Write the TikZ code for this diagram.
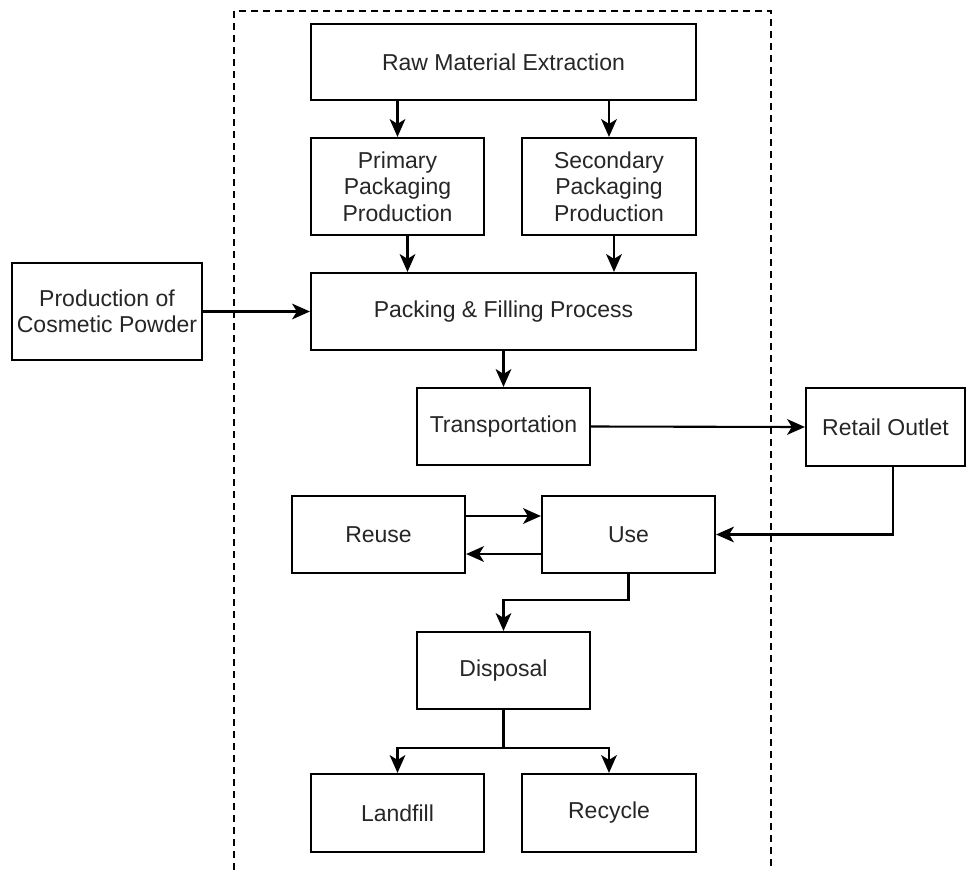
\documentclass[tikz,border=0pt]{standalone}
\usepackage{fontspec}
\setmainfont{Liberation Sans}
\usetikzlibrary{arrows.meta}
\begin{document}
\begin{tikzpicture}[x=1pt,y=-1pt,
  box/.style={draw=black, line width=2.2pt, fill=white, inner sep=0pt, align=center,
    font=\fontsize{23}{26.5}\selectfont, text=black!85},
  tip/.tip={Stealth[length=18pt,width=16pt,inset=5pt,line width=0pt]},
  arr/.style={draw=black, line width=2.1pt, -tip},
  thinarr/.style={arr, line width=1.5pt},
  frame/.style={draw=black, line width=2pt, dash pattern=on 7pt off 5pt}]
\useasboundingbox (0,0) rectangle (968,870);
\fill[white] (0,0) rectangle (968,870);
% dashed system boundary
\draw[frame] (234,870) -- (234,11) -- (771,11) -- (771,870);
% nodes
\node[box, minimum width=385pt, minimum height=76pt] (raw) at (503.5,62) {Raw Material Extraction};
\node[box, minimum width=173pt, minimum height=97pt] (prim) at (397.5,186.5) {Primary\\Packaging\\Production};
\node[box, minimum width=174pt, minimum height=97pt] (sec) at (609,186.5) {Secondary\\Packaging\\Production};
\node[box, minimum width=385pt, minimum height=77pt] (pack) at (503.5,311.5) {Packing \& Filling Process};
\node[box, minimum width=190pt, minimum height=97pt] (powder) at (107,311.5) {Production of\\Cosmetic Powder};
\node[box, minimum width=173pt, minimum height=77pt] (trans) at (503.5,426.5) {Transportation};
\node[box, minimum width=159pt, minimum height=78pt] (retail) at (885.5,427) {Retail Outlet};
\node[box, minimum width=173pt, minimum height=77pt] (reuse) at (378.5,534.5) {Reuse};
\node[box, minimum width=173pt, minimum height=77pt] (use) at (628.5,534.5) {Use};
\node[box, minimum width=173pt, minimum height=77pt] (disp) at (503.5,670.5) {Disposal};
\node[box, minimum width=173pt, minimum height=78pt] (land) at (397.5,813) {Landfill};
\node[box, minimum width=174pt, minimum height=78pt] (recy) at (609,813) {Recycle};
% connectors
\draw[arr] (raw.south -| prim.north) -- (prim.north);
\draw[arr] (raw.south -| sec.north) -- (sec.north);
\draw[arr] ([xshift=10pt]prim.south) -- ([xshift=10pt]prim.south |- pack.north);
\draw[arr] ([xshift=5pt]sec.south) -- ([xshift=5pt]sec.south |- pack.north);
\draw[arr] (powder.east) -- (pack.west);
\draw[arr] (pack.south) -- (trans.north);
\draw[arr] (trans.east) -- (retail.west);
\draw[arr] ([xshift=7.5pt]retail.south) |- (use.east);
\draw[thinarr] ([yshift=18.5pt]reuse.east) -- ([yshift=18.5pt]use.west);
\draw[arr] ([yshift=-19.5pt]use.west) -- ([yshift=-19.5pt]reuse.east);
\draw[arr] (use.south) -- ++(0,26) -| (disp.north);
\draw[line width=2.1pt] (disp.south) -- ++(0,38) coordinate (j);
\draw[arr] (j) -| (land.north);
\draw[arr] (j) -| (recy.north);
\end{tikzpicture}
\end{document}
